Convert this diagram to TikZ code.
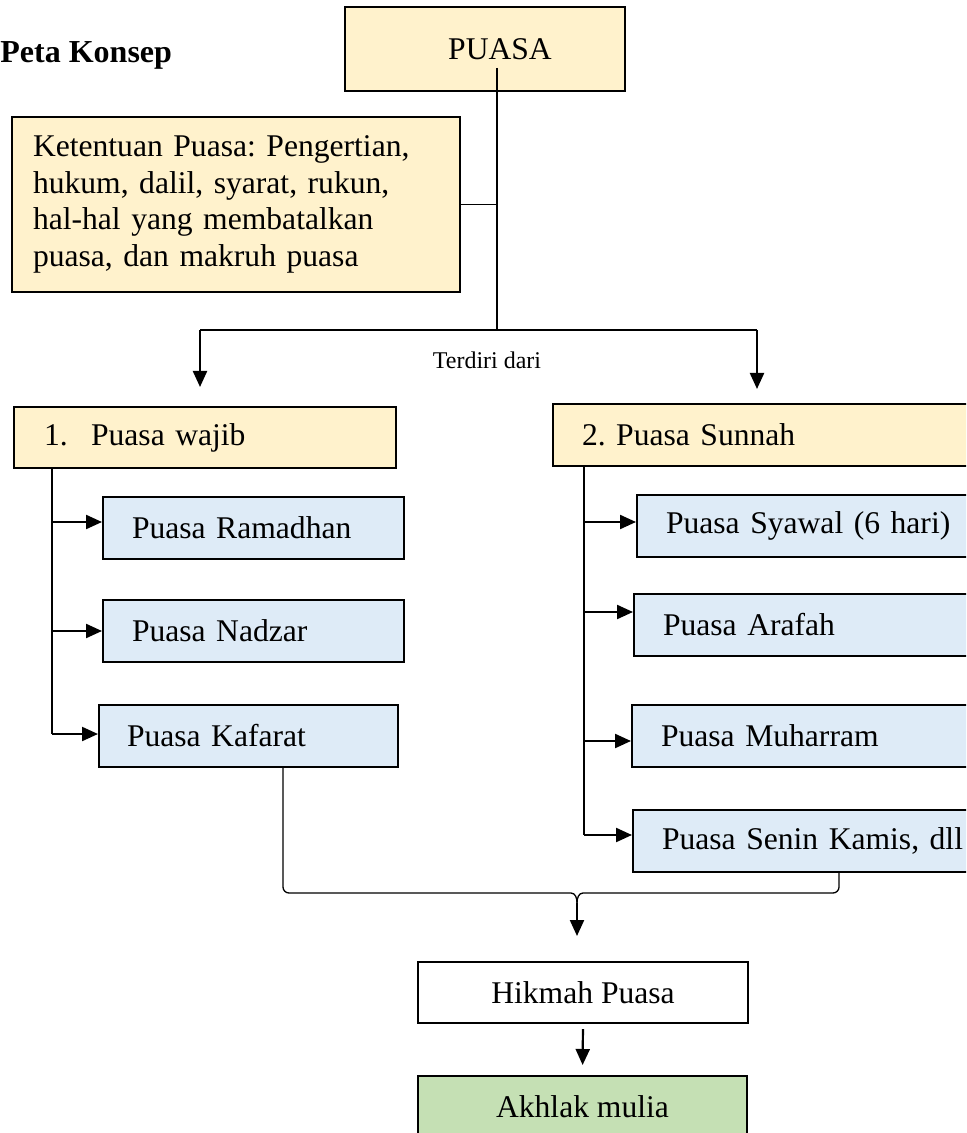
\documentclass[tikz,border=0pt]{standalone}
\usepackage{fontspec}
\setmainfont{Liberation Serif}
\usetikzlibrary{arrows.meta}
\definecolor{kuningmuda}{HTML}{FFF2CC}
\definecolor{birumuda}{HTML}{DEEBF7}
\definecolor{hijaumuda}{HTML}{C5E0B4}
\frenchspacing

\begin{document}
\begin{tikzpicture}[x=0.5pt,y=-0.5pt,
    kotak/.style={draw,line width=1pt,inner ysep=0pt,minimum height=31pt,font=\fontsize{15.8}{18.3}\selectfont},
    kiri/.style={kotak,anchor=west,align=left,inner xsep=14.5pt,text width=#1},
    garis/.style={line width=0.65pt},
    panah/.style={line width=1.1pt,-{Triangle[length=8pt,width=7pt]}}]
  \useasboundingbox (0,0) rectangle (966,1133);
  \clip (0,0) rectangle (966,1133);

  \node[anchor=base west,inner sep=0pt,font=\fontsize{16}{19}\selectfont\bfseries] (judul) at (0,63) {Peta Konsep};
  \node[kotak,fill=kuningmuda,minimum width=140pt,minimum height=42pt] (puasa) at (485,49) {\hspace*{15pt}PUASA};
  \node[kiri=203pt,fill=kuningmuda,inner xsep=10.5pt,minimum height=87.5pt] (ketentuan) at (11,204.5)
    {Ketentuan Puasa: Pengertian,\\ hukum, dalil, syarat, rukun,\\ hal-hal yang membatalkan\\ puasa, dan makruh puasa};
  \node[font=\fontsize{12}{14}\selectfont] (terdiri) at (487,360) {Terdiri dari};

  % puasa wajib
  \node[kiri=161pt,fill=kuningmuda,inner xsep=15pt,minimum height=30.5pt] (wajib) at (13,437.5) {1.\hspace{11.7pt}Puasa wajib};
  \node[kiri=121.5pt,fill=birumuda] (ramadhan) at (102,528) {Puasa Ramadhan};
  \node[kiri=121.5pt,fill=birumuda] (nadzar) at (102,631) {Puasa Nadzar};
  \node[kiri=121.5pt,fill=birumuda,inner xsep=14pt] (kafarat) at (98,736) {Puasa Kafarat};

  % puasa sunnah
  \node[kiri=200pt,fill=kuningmuda] (sunnah) at (552,435) {2. Puasa Sunnah};
  \node[kiri=170pt,fill=birumuda] (syawal) at (636,526) {Puasa Syawal (6 hari)};
  \node[kiri=170pt,fill=birumuda] (arafah) at (633,624.5) {Puasa Arafah};
  \node[kiri=170pt,fill=birumuda] (muharram) at (631,736) {Puasa Muharram};
  \node[kiri=170pt,fill=birumuda] (senin) at (632,841) {Puasa Senin Kamis, dll};

  \node[kotak,minimum width=165pt,minimum height=30.5pt] (hikmah) at (583,992.5) {Hikmah Puasa};
  \node[kotak,fill=hijaumuda,minimum width=164.5pt] (akhlak) at (582.5,1107) {Akhlak mulia};

  % cabang atas
  \coordinate (pangkal) at (497,68);
  \coordinate (cabang) at (497,330);
  \coordinate (cabangkiri) at (200,330);
  \coordinate (cabangkanan) at (757,330);
  \draw[garis] (pangkal) -- (cabang);
  \draw[garis] (ketentuan.east) -- (ketentuan.east -| pangkal);
  \draw[garis] (cabangkiri) -- (cabangkanan);
  \draw[panah,shorten >=9.5pt] (cabangkiri) -- (cabangkiri |- wajib.north);
  \draw[panah,shorten >=7pt] (cabangkanan) -- (cabangkanan |- sunnah.north);

  % anak panah ke tiap jenis puasa
  \coordinate (batangwajib) at (52,468);
  \coordinate (batangsunnah) at (584,466);
  \foreach \n/\g in {ramadhan/3,nadzar/0,kafarat/1}{
    \coordinate (t\n) at ([yshift=\g pt]\n.west);
    \draw[panah] (batangwajib |- t\n) -- (t\n);
  }
  \foreach \n/\g in {syawal/2,arafah/6.25,muharram/-2.5,senin/3}{
    \coordinate (t\n) at ([yshift=\g pt]\n.west);
    \draw[panah] (batangsunnah |- t\n) -- (t\n);
  }
  \draw[garis] (batangwajib) -- (batangwajib |- tkafarat);
  \draw[garis] (batangsunnah) -- (batangsunnah |- tsenin);

  % kurung ke hikmah
  \coordinate (kurungkiri) at (283,767);
  \coordinate (kurungkanan) at (839,872);
  \coordinate (kurungtengah) at (577,903);
  \draw[garis] (kurungkiri) -- (283,887) to[out=-90,in=180] (289,893) -- (571,893) to[out=0,in=90] (kurungtengah);
  \draw[garis] (kurungkanan) -- (839,887) to[out=-90,in=0] (833,893) -- (583,893) to[out=180,in=90] (kurungtengah);
  \draw[panah,shorten >=12.5pt] (kurungtengah) -- (kurungtengah |- hikmah.north);
  \draw[panah,shorten <=2.5pt,shorten >=5pt] (hikmah.south) -- (akhlak.north);
\end{tikzpicture}
\end{document}
